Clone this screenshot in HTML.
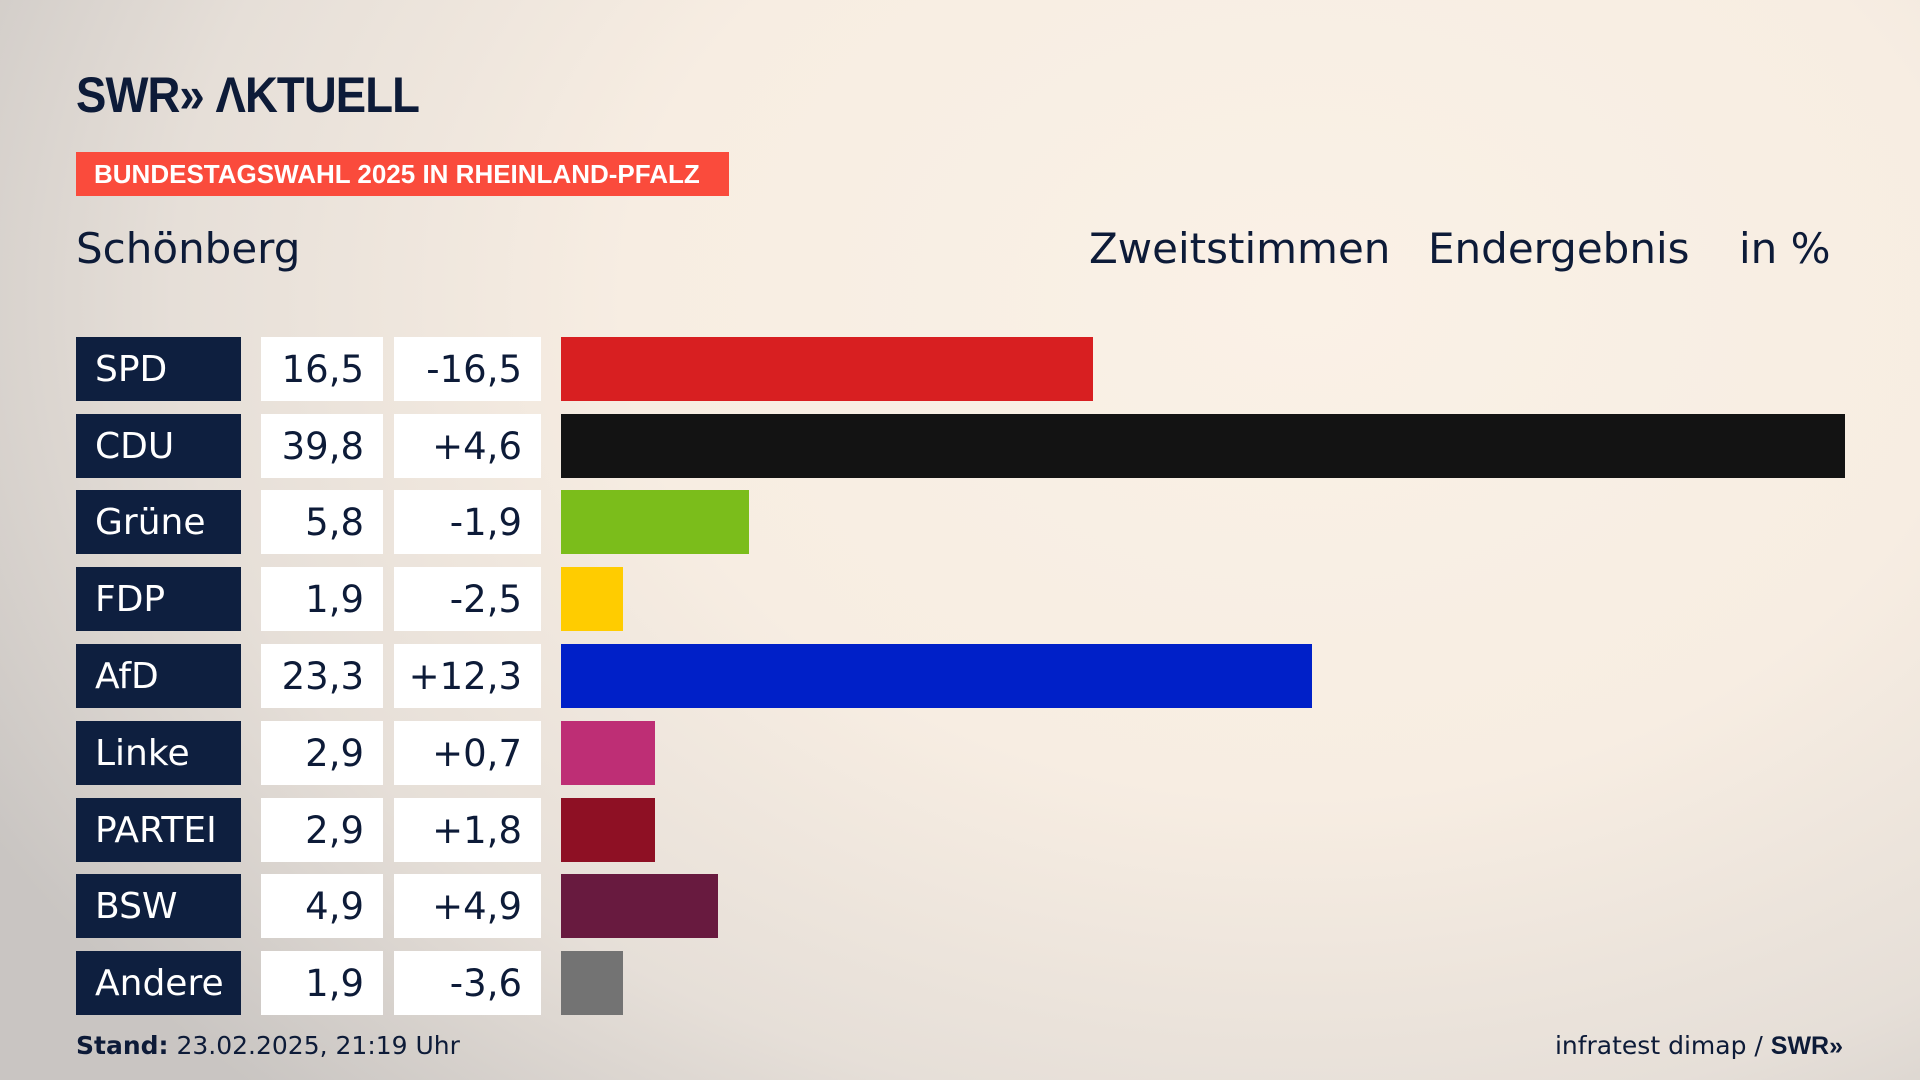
<!DOCTYPE html>
<html><head><meta charset="utf-8"><style>
body{margin:0;width:1920px;height:1080px;overflow:hidden;font-family:"DejaVu Sans","Liberation Sans",sans-serif;color:#0d1b38;
background:radial-gradient(ellipse 1500px 1100px at 1300px 300px,#faf1e6 0%,#f7ede2 45%,#e6dfd8 75%,#c9c5c2 100%);position:relative}
.a{position:absolute;white-space:nowrap}
.logo{left:76px;top:66px;font-family:"Liberation Sans",sans-serif;font-weight:bold;font-size:50px;letter-spacing:-1px;transform:scaleX(0.91);transform-origin:left}
.ban{left:76px;top:152px;width:653px;height:44px;background:#fa4b3c;color:#fff;font-weight:bold;font-size:26px;line-height:44px;padding-left:18px;box-sizing:border-box;font-family:"Liberation Sans",sans-serif;overflow:hidden}
.h{font-size:42px;top:224px}
.lab{left:76px;width:165px;height:64px;background:#0e1f3f;color:#fff;font-size:36px;line-height:66px;padding-left:19px;box-sizing:border-box}
.v{background:#fff;height:64px;font-size:37px;line-height:66px;text-align:right;padding-right:19px;box-sizing:border-box}
.v1{left:261px;width:122px}.v2{left:394px;width:147px}
.bar{left:561px;height:64px}
.f{font-size:25px;top:1031px}
</style></head><body>
<div class="a logo">SWR» ΛKTUELL</div>
<div class="a ban">BUNDESTAGSWAHL 2025 IN RHEINLAND-PFALZ</div>
<div class="a h" style="left:76px">Schönberg</div>
<div class="a h" style="left:1089px">Zweitstimmen</div>
<div class="a h" style="left:1428px">Endergebnis</div>
<div class="a h" style="left:1739px">in %</div>

<div class="a lab" style="top:337px">SPD</div><div class="a v v1" style="top:337px">16,5</div><div class="a v v2" style="top:337px">-16,5</div><div class="a bar" style="top:337px;width:532px;background:#d81f21"></div>
<div class="a lab" style="top:414px">CDU</div><div class="a v v1" style="top:414px">39,8</div><div class="a v v2" style="top:414px">+4,6</div><div class="a bar" style="top:414px;width:1284px;background:#131313"></div>
<div class="a lab" style="top:490px">Grüne</div><div class="a v v1" style="top:490px">5,8</div><div class="a v v2" style="top:490px">-1,9</div><div class="a bar" style="top:490px;width:188px;background:#7bbd1b"></div>
<div class="a lab" style="top:567px">FDP</div><div class="a v v1" style="top:567px">1,9</div><div class="a v v2" style="top:567px">-2,5</div><div class="a bar" style="top:567px;width:62px;background:#ffcc00"></div>
<div class="a lab" style="top:644px">AfD</div><div class="a v v1" style="top:644px">23,3</div><div class="a v v2" style="top:644px">+12,3</div><div class="a bar" style="top:644px;width:751px;background:#0020c8"></div>
<div class="a lab" style="top:721px">Linke</div><div class="a v v1" style="top:721px">2,9</div><div class="a v v2" style="top:721px">+0,7</div><div class="a bar" style="top:721px;width:94px;background:#be2e75"></div>
<div class="a lab" style="top:798px">PARTEI</div><div class="a v v1" style="top:798px">2,9</div><div class="a v v2" style="top:798px">+1,8</div><div class="a bar" style="top:798px;width:94px;background:#8e1024"></div>
<div class="a lab" style="top:874px">BSW</div><div class="a v v1" style="top:874px">4,9</div><div class="a v v2" style="top:874px">+4,9</div><div class="a bar" style="top:874px;width:157px;background:#681a3f"></div>
<div class="a lab" style="top:951px">Andere</div><div class="a v v1" style="top:951px">1,9</div><div class="a v v2" style="top:951px">-3,6</div><div class="a bar" style="top:951px;width:62px;background:#737373"></div>

<div class="a f" style="left:76px"><b>Stand:</b> 23.02.2025, 21:19 Uhr</div>
<div class="a f" style="right:77px">infratest dimap / <b style="font-family:'Liberation Sans',sans-serif">SWR»</b></div>
</body></html>
